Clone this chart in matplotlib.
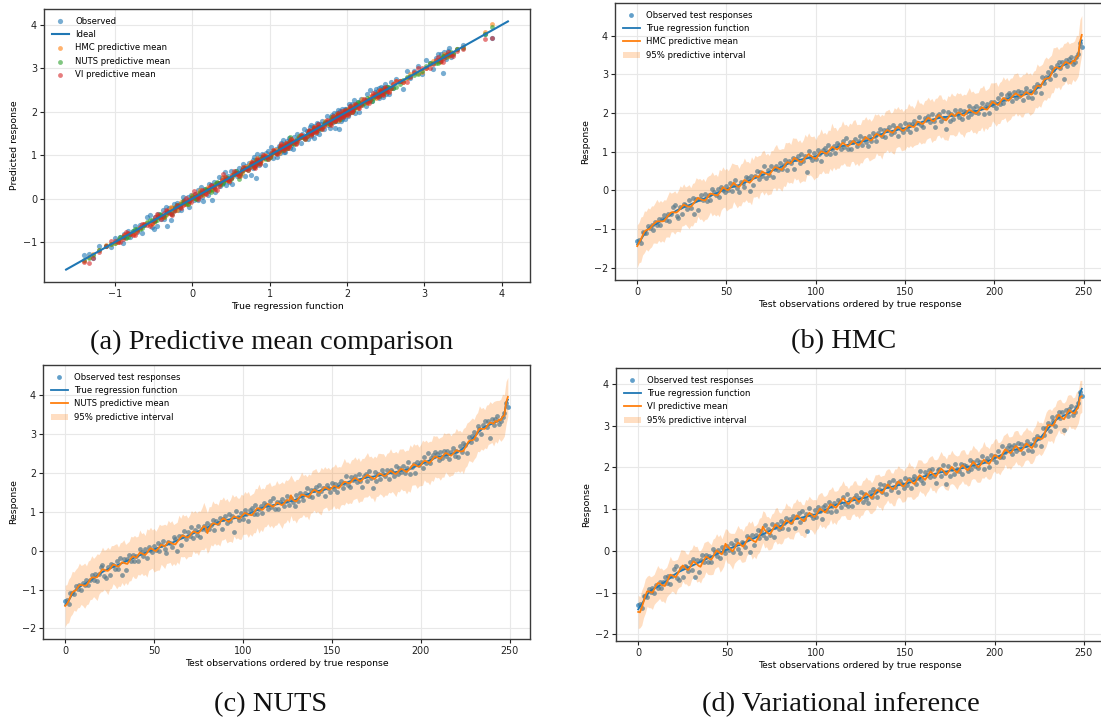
import numpy as np
import matplotlib
matplotlib.use("Agg")
import matplotlib.pyplot as plt

# ---------------- data (read/estimated from the picture) ----------------
true_fn = [
    -1.40, -1.33, -1.28, -1.20, -1.12, -1.05, -1.00, -0.96, -0.93, -0.90,
    -0.88, -0.86, -0.83, -0.80, -0.77, -0.74, -0.71, -0.68, -0.65, -0.62,
    -0.58, -0.55, -0.52, -0.50, -0.48, -0.46, -0.44, -0.42, -0.40, -0.38,
    -0.36, -0.34, -0.32, -0.30, -0.28, -0.26, -0.24, -0.22, -0.20, -0.18,
    -0.16, -0.14, -0.12, -0.10, -0.08, -0.06, -0.04, -0.02, 0.00, 0.02,
    0.03, 0.05, 0.07, 0.08, 0.10, 0.11, 0.13, 0.14, 0.16, 0.18,
    0.20, 0.22, 0.24, 0.26, 0.28, 0.30, 0.32, 0.34, 0.36, 0.38,
    0.40, 0.42, 0.44, 0.46, 0.48, 0.50, 0.52, 0.54, 0.56, 0.58,
    0.60, 0.62, 0.64, 0.66, 0.68, 0.70, 0.72, 0.74, 0.76, 0.77,
    0.78, 0.79, 0.80, 0.81, 0.82, 0.83, 0.84, 0.85, 0.86, 0.87,
    0.88, 0.90, 0.92, 0.94, 0.96, 0.98, 1.00, 1.02, 1.04, 1.06,
    1.08, 1.10, 1.12, 1.13, 1.14, 1.15, 1.16, 1.17, 1.18, 1.19,
    1.20, 1.21, 1.22, 1.23, 1.24, 1.25, 1.26, 1.27, 1.28, 1.30,
    1.32, 1.34, 1.36, 1.38, 1.40, 1.42, 1.44, 1.46, 1.48, 1.50,
    1.51, 1.52, 1.53, 1.54, 1.55, 1.56, 1.57, 1.58, 1.59, 1.60,
    1.61, 1.62, 1.63, 1.64, 1.66, 1.68, 1.70, 1.72, 1.74, 1.76,
    1.78, 1.79, 1.80, 1.81, 1.82, 1.83, 1.84, 1.85, 1.86, 1.87,
    1.88, 1.89, 1.90, 1.90, 1.91, 1.92, 1.93, 1.93, 1.94, 1.95,
    1.96, 1.97, 1.98, 1.99, 2.00, 2.01, 2.02, 2.03, 2.04, 2.05,
    2.06, 2.07, 2.08, 2.09, 2.10, 2.12, 2.14, 2.16, 2.18, 2.20,
    2.22, 2.24, 2.26, 2.28, 2.30, 2.32, 2.34, 2.36, 2.38, 2.40,
    2.41, 2.42, 2.43, 2.44, 2.45, 2.46, 2.47, 2.48, 2.49, 2.50,
    2.52, 2.54, 2.57, 2.60, 2.64, 2.68, 2.72, 2.77, 2.82, 2.87,
    2.92, 2.97, 3.02, 3.07, 3.11, 3.15, 3.18, 3.20, 3.22, 3.24,
    3.26, 3.28, 3.30, 3.32, 3.34, 3.37, 3.42, 3.50, 3.78, 3.88,
]

observed = [
    -1.30, -1.28, -1.36, -1.08, -1.09, -1.11, -0.91, -0.98, -0.89, -1.01,
    -0.82, -0.89, -0.75, -0.89, -0.75, -0.63, -0.76, -0.61, -0.79, -0.61,
    -0.43, -0.37, -0.65, -0.70, -0.42, -0.62, -0.35, -0.38, -0.47, -0.26,
    -0.46, -0.20, -0.62, -0.22, -0.50, -0.21, -0.11, -0.26, -0.10, -0.27,
    -0.13, -0.26, 0.04, -0.03, -0.13, 0.03, -0.18, 0.09, 0.02, -0.04,
    0.11, 0.02, 0.19, -0.02, 0.14, 0.26, 0.05, -0.05, 0.22, 0.19,
    0.09, 0.35, 0.31, -0.02, 0.38, 0.15, 0.37, 0.51, 0.30, 0.47,
    0.37, 0.62, 0.32, 0.52, 0.39, 0.64, 0.34, 0.56, 0.64, 0.53,
    0.71, 0.55, 0.67, 0.79, 0.52, 0.76, 0.70, 0.83, 0.55, 0.81,
    0.90, 0.70, 0.95, 0.77, 0.89, 0.48, 1.02, 0.86, 0.78, 0.97,
    0.82, 1.04, 0.95, 0.77, 1.05, 1.10, 0.95, 1.18, 0.93, 1.08,
    1.15, 0.96, 1.22, 1.17, 1.06, 1.28, 1.13, 1.36, 1.08, 1.25,
    1.08, 1.26, 1.33, 1.16, 1.27, 1.40, 1.17, 1.35, 1.24, 1.14,
    1.42, 1.28, 1.49, 1.40, 1.29, 1.49, 1.60, 1.41, 1.57, 1.37,
    1.55, 1.64, 1.45, 1.69, 1.52, 1.62, 1.40, 1.68, 1.60, 1.51,
    1.74, 1.58, 1.71, 1.50, 1.71, 1.79, 1.60, 1.75, 1.91, 1.69,
    1.63, 1.88, 1.82, 1.93, 1.76, 1.97, 1.80, 1.63, 1.93, 1.97,
    1.80, 2.05, 1.87, 1.60, 2.02, 1.80, 1.97, 1.84, 2.07, 1.97,
    1.91, 2.07, 1.84, 2.06, 2.03, 1.91, 2.17, 1.97, 2.13, 2.02,
    2.18, 1.99, 2.13, 2.27, 1.97, 2.16, 2.23, 2.00, 2.29, 2.21,
    2.28, 2.13, 2.40, 2.24, 2.50, 2.25, 2.37, 2.46, 2.53, 2.48,
    2.32, 2.54, 2.38, 2.57, 2.43, 2.55, 2.35, 2.54, 2.64, 2.42,
    2.56, 2.40, 2.68, 2.54, 2.76, 2.71, 2.52, 2.93, 2.78, 2.94,
    3.05, 2.88, 3.20, 3.12, 2.99, 3.23, 3.33, 3.17, 3.32, 2.89,
    3.37, 3.22, 3.39, 3.46, 3.26, 3.32, 3.44, 3.53, 3.80, 3.70,
]

# deviation of each predictive mean from the true regression function
hmc_dev = [
    -0.04, -0.02, 0.01, 0.03, 0.05, 0.02, -0.01, -0.03, 0.00, 0.02,
    0.04, 0.06, 0.03, 0.00, -0.03, -0.05, -0.02, 0.01, 0.03, 0.05,
    0.02, -0.02, -0.05, -0.03, 0.00, 0.04, 0.07, 0.03, -0.01, -0.04,
    -0.06, -0.03, 0.01, 0.05, 0.09, 0.04, 0.00, -0.03, -0.06, -0.02,
    0.02, 0.06, 0.03, -0.01, -0.04, -0.07, -0.03, 0.02, 0.08, 0.03,
    -0.01, -0.04, 0.00, 0.05, 0.10, 0.04, -0.02, -0.05, -0.02, 0.03,
    0.07, 0.03, -0.02, -0.06, -0.03, 0.01, 0.05, 0.02, -0.02, 0.04,
    0.09, 0.04, 0.00, -0.04, -0.08, -0.03, 0.02, 0.06, 0.03, -0.01,
    -0.05, -0.09, -0.04, 0.01, 0.05, 0.02, -0.02, 0.03, 0.08, 0.04,
    0.00, -0.04, -0.07, -0.03, 0.02, 0.06, 0.10, 0.05, 0.01, -0.03,
    -0.06, -0.02, 0.03, 0.07, 0.03, -0.01, -0.05, -0.02, 0.02, 0.06,
    0.03, -0.02, -0.06, -0.03, 0.02, 0.08, 0.04, 0.00, -0.04, -0.01,
    0.03, 0.07, 0.02, -0.03, -0.07, -0.04, 0.01, 0.05, 0.10, 0.04,
    -0.01, -0.05, -0.02, 0.03, 0.06, 0.02, -0.03, -0.07, -0.03, 0.02,
    0.05, 0.02, -0.02, -0.05, -0.01, 0.04, 0.08, 0.03, -0.02, -0.06,
    -0.03, 0.01, 0.05, 0.03, -0.01, -0.04, 0.00, 0.06, 0.02, -0.03,
    -0.06, -0.02, 0.03, 0.07, 0.03, -0.02, -0.05, -0.01, 0.04, 0.08,
    0.03, -0.02, -0.06, -0.09, -0.04, 0.01, 0.05, 0.02, -0.02, 0.03,
    0.06, 0.02, -0.03, -0.06, -0.02, 0.03, 0.07, 0.03, -0.01, -0.04,
    -0.07, -0.03, 0.02, 0.06, 0.02, -0.02, -0.05, -0.01, 0.04, 0.09,
    0.04, -0.01, -0.05, -0.02, 0.03, 0.07, 0.03, -0.02, -0.06, -0.03,
    0.01, 0.05, 0.08, 0.04, 0.00, -0.04, -0.02, 0.02, 0.05, 0.01,
    -0.03, -0.06, -0.02, 0.03, 0.06, 0.02, -0.03, 0.01, 0.05, 0.02,
    -0.02, -0.05, -0.01, 0.04, 0.07, 0.03, -0.02, -0.05, -0.01, 0.03,
    0.06, 0.02, -0.02, -0.04, 0.01, -0.03, 0.02, -0.02, 0.06, 0.14,
]

nuts_dev = [
    -0.02, -0.04, -0.01, 0.02, 0.04, 0.01, -0.02, 0.01, 0.04, 0.02,
    -0.01, -0.04, -0.06, -0.02, 0.02, 0.05, 0.02, -0.01, -0.03, 0.01,
    0.04, 0.07, 0.03, -0.01, -0.04, -0.02, 0.02, 0.06, 0.03, -0.02,
    -0.05, -0.02, 0.02, -0.01, -0.05, -0.08, -0.03, 0.02, 0.05, 0.02,
    -0.02, 0.02, 0.07, 0.03, -0.01, -0.05, -0.02, 0.03, 0.06, 0.02,
    -0.02, -0.06, -0.03, 0.01, 0.05, 0.02, -0.02, 0.02, 0.07, 0.03,
    -0.01, -0.05, -0.08, -0.04, 0.00, 0.04, 0.07, 0.03, -0.01, -0.04,
    -0.02, 0.02, 0.05, 0.02, -0.02, -0.05, -0.01, 0.03, 0.07, 0.02,
    -0.15, -0.05, 0.00, 0.04, 0.02, -0.02, -0.05, -0.02, 0.03, 0.06,
    0.02, -0.02, -0.06, -0.03, 0.01, 0.05, 0.02, -0.01, -0.04, 0.00,
    0.04, 0.07, 0.03, -0.01, -0.04, -0.07, -0.03, 0.01, 0.05, 0.02,
    -0.02, -0.05, -0.02, 0.03, 0.06, 0.03, -0.01, -0.04, -0.01, 0.04,
    0.02, -0.02, -0.05, -0.02, 0.03, 0.05, 0.02, 0.15, 0.03, -0.02,
    -0.05, -0.02, 0.02, 0.06, 0.03, -0.01, -0.05, -0.08, -0.03, 0.02,
    0.05, 0.02, -0.02, -0.05, -0.02, 0.02, 0.06, 0.03, -0.01, -0.03,
    0.00, 0.04, 0.02, -0.02, -0.05, -0.02, 0.02, 0.05, 0.02, -0.02,
    -0.05, -0.02, 0.03, 0.06, 0.02, -0.02, -0.06, -0.03, 0.01, 0.04,
    0.07, 0.03, -0.01, -0.04, -0.07, -0.03, 0.02, 0.05, 0.02, -0.02,
    -0.04, -0.01, 0.03, 0.06, 0.02, -0.02, -0.05, -0.02, 0.02, 0.05,
    0.02, -0.02, -0.06, -0.03, 0.01, 0.05, 0.08, 0.04, -0.01, -0.04,
    -0.02, 0.02, 0.05, 0.02, -0.03, -0.07, -0.03, 0.01, 0.04, 0.01,
    -0.03, -0.06, -0.02, 0.02, 0.06, 0.03, -0.01, -0.04, -0.01, 0.03,
    0.06, 0.02, -0.02, -0.05, -0.08, -0.03, 0.01, 0.04, 0.01, -0.03,
    -0.06, -0.02, 0.03, 0.06, 0.02, -0.02, -0.05, -0.02, 0.02, 0.05,
    0.02, -0.02, 0.03, -0.01, 0.03, -0.02, 0.02, -0.03, 0.02, 0.07,
]

vi_dev = [
    -0.06, -0.14, -0.08, -0.02, 0.04, 0.08, 0.03, -0.03, -0.07, -0.02,
    0.04, 0.09, 0.05, -0.01, -0.06, -0.10, -0.04, 0.02, 0.08, 0.03,
    -0.03, -0.08, -0.04, 0.02, 0.07, 0.11, 0.05, -0.01, -0.06, -0.02,
    0.04, 0.09, 0.04, -0.02, -0.08, -0.12, -0.05, 0.01, 0.06, 0.02,
    -0.03, -0.07, -0.02, 0.04, 0.09, 0.04, -0.02, -0.06, 0.02, 0.15,
    0.08, 0.02, -0.04, -0.09, -0.04, 0.02, 0.07, 0.03, -0.03, -0.08,
    -0.03, 0.03, 0.08, 0.03, -0.02, -0.07, -0.11, -0.05, 0.01, 0.06,
    0.18, 0.08, 0.02, -0.04, -0.08, -0.03, 0.03, 0.09, 0.04, -0.02,
    -0.07, -0.03, 0.02, 0.07, 0.03, -0.02, -0.07, -0.03, 0.03, 0.08,
    0.04, -0.01, -0.06, -0.10, -0.04, 0.02, 0.07, 0.03, -0.02, -0.06,
    -0.02, 0.04, 0.09, 0.04, -0.01, -0.06, -0.02, 0.03, 0.08, 0.03,
    -0.02, -0.07, -0.03, 0.02, 0.07, 0.11, 0.05, -0.01, -0.06, -0.03,
    0.02, 0.07, 0.03, -0.02, -0.07, -0.04, 0.01, 0.06, 0.10, 0.04,
    -0.02, -0.08, -0.04, 0.02, 0.06, 0.02, -0.03, -0.08, -0.03, 0.03,
    0.08, 0.03, -0.02, -0.07, -0.03, 0.03, 0.09, 0.04, -0.02, -0.06,
    -0.02, 0.04, 0.08, 0.03, -0.03, -0.08, -0.03, 0.03, 0.07, 0.02,
    -0.04, -0.09, -0.04, 0.02, 0.08, 0.03, -0.02, -0.07, -0.02, 0.04,
    0.09, 0.04, -0.02, -0.07, -0.03, 0.03, 0.08, 0.03, -0.03, -0.08,
    -0.03, 0.03, 0.07, 0.02, -0.04, -0.08, -0.03, 0.03, 0.09, 0.04,
    -0.02, -0.07, -0.03, 0.03, 0.08, 0.03, -0.03, -0.08, -0.03, 0.02,
    0.07, 0.03, -0.03, -0.07, -0.02, 0.04, 0.09, 0.04, -0.02, -0.06,
    -0.02, 0.04, 0.08, 0.03, -0.03, -0.07, -0.02, 0.04, 0.08, 0.03,
    -0.03, -0.08, -0.03, 0.03, 0.07, 0.02, -0.04, -0.08, -0.02, 0.04,
    0.09, 0.04, -0.02, -0.07, -0.02, 0.04, 0.08, 0.02, -0.04, -0.09,
    -0.03, 0.03, 0.07, 0.01, -0.04, -0.08, -0.03, -0.06, -0.10, -0.18,
]

# half-width of the 95% predictive interval around each predictive mean
hmc_hw = [
    0.55, 0.52, 0.58, 0.50, 0.54, 0.49, 0.56, 0.51, 0.53, 0.48,
    0.52, 0.57, 0.49, 0.54, 0.50, 0.55, 0.48, 0.53, 0.59, 0.50,
    0.51, 0.56, 0.49, 0.53, 0.60, 0.50, 0.54, 0.48, 0.52, 0.57,
    0.49, 0.55, 0.51, 0.58, 0.48, 0.53, 0.50, 0.56, 0.49, 0.54,
    0.52, 0.48, 0.57, 0.50, 0.54, 0.49, 0.61, 0.51, 0.53, 0.48,
    0.55, 0.50, 0.53, 0.58, 0.49, 0.52, 0.56, 0.48, 0.54, 0.50,
    0.57, 0.49, 0.53, 0.50, 0.62, 0.48, 0.54, 0.51, 0.56, 0.49,
    0.52, 0.58, 0.48, 0.54, 0.50, 0.56, 0.49, 0.53, 0.60, 0.50,
    0.51, 0.55, 0.48, 0.57, 0.50, 0.53, 0.49, 0.59, 0.51, 0.54,
    0.48, 0.56, 0.50, 0.53, 0.61, 0.49, 0.55, 0.50, 0.52, 0.57,
    0.49, 0.54, 0.51, 0.58, 0.48, 0.53, 0.50, 0.56, 0.49, 0.62,
    0.51, 0.55, 0.48, 0.53, 0.50, 0.57, 0.49, 0.54, 0.51, 0.56,
    0.48, 0.53, 0.59, 0.50, 0.54, 0.49, 0.56, 0.51, 0.53, 0.48,
    0.55, 0.50, 0.52, 0.57, 0.49, 0.54, 0.50, 0.58, 0.48, 0.53,
    0.51, 0.56, 0.49, 0.53, 0.60, 0.50, 0.52, 0.48, 0.55, 0.50,
    0.53, 0.49, 0.57, 0.51, 0.54, 0.48, 0.52, 0.59, 0.50, 0.53,
    0.49, 0.55, 0.51, 0.53, 0.48, 0.57, 0.50, 0.54, 0.49, 0.52,
    0.56, 0.48, 0.53, 0.50, 0.58, 0.49, 0.54, 0.51, 0.52, 0.55,
    0.48, 0.53, 0.50, 0.56, 0.49, 0.52, 0.57, 0.48, 0.54, 0.50,
    0.53, 0.49, 0.55, 0.51, 0.60, 0.48, 0.52, 0.50, 0.56, 0.49,
    0.52, 0.57, 0.48, 0.53, 0.50, 0.55, 0.49, 0.58, 0.51, 0.53,
    0.49, 0.54, 0.51, 0.56, 0.48, 0.52, 0.55, 0.50, 0.53, 0.49,
    0.55, 0.50, 0.53, 0.48, 0.57, 0.51, 0.54, 0.49, 0.52, 0.56,
    0.50, 0.53, 0.49, 0.58, 0.51, 0.54, 0.48, 0.55, 0.50, 0.53,
    0.49, 0.56, 0.51, 0.54, 0.48, 0.53, 0.57, 0.52, 0.58, 0.50,
]

nuts_hw = [
    0.53, 0.50, 0.56, 0.51, 0.55, 0.49, 0.54, 0.52, 0.57, 0.50,
    0.53, 0.58, 0.50, 0.55, 0.51, 0.56, 0.49, 0.54, 0.60, 0.51,
    0.52, 0.57, 0.50, 0.54, 0.61, 0.51, 0.55, 0.49, 0.53, 0.58,
    0.50, 0.56, 0.52, 0.59, 0.49, 0.54, 0.51, 0.57, 0.50, 0.55,
    0.53, 0.49, 0.58, 0.51, 0.55, 0.50, 0.62, 0.52, 0.54, 0.49,
    0.56, 0.51, 0.54, 0.59, 0.50, 0.53, 0.57, 0.49, 0.55, 0.51,
    0.58, 0.50, 0.54, 0.51, 0.63, 0.49, 0.55, 0.52, 0.57, 0.50,
    0.53, 0.59, 0.49, 0.55, 0.51, 0.57, 0.50, 0.54, 0.61, 0.51,
    0.52, 0.56, 0.49, 0.58, 0.51, 0.54, 0.50, 0.60, 0.52, 0.55,
    0.49, 0.57, 0.51, 0.54, 0.62, 0.50, 0.56, 0.51, 0.53, 0.58,
    0.50, 0.55, 0.52, 0.59, 0.49, 0.54, 0.51, 0.57, 0.50, 0.63,
    0.52, 0.56, 0.49, 0.54, 0.51, 0.58, 0.50, 0.55, 0.52, 0.57,
    0.49, 0.54, 0.60, 0.51, 0.55, 0.50, 0.57, 0.52, 0.54, 0.49,
    0.56, 0.51, 0.53, 0.58, 0.50, 0.55, 0.51, 0.59, 0.49, 0.54,
    0.52, 0.57, 0.50, 0.54, 0.61, 0.51, 0.53, 0.49, 0.56, 0.51,
    0.54, 0.50, 0.58, 0.52, 0.55, 0.49, 0.53, 0.60, 0.51, 0.54,
    0.50, 0.56, 0.52, 0.54, 0.49, 0.58, 0.51, 0.55, 0.50, 0.53,
    0.57, 0.49, 0.54, 0.51, 0.59, 0.50, 0.55, 0.52, 0.53, 0.56,
    0.49, 0.54, 0.51, 0.57, 0.50, 0.53, 0.58, 0.49, 0.55, 0.51,
    0.54, 0.50, 0.56, 0.52, 0.61, 0.49, 0.53, 0.51, 0.57, 0.50,
    0.53, 0.58, 0.49, 0.54, 0.51, 0.56, 0.50, 0.59, 0.52, 0.54,
    0.50, 0.55, 0.52, 0.57, 0.49, 0.53, 0.56, 0.51, 0.54, 0.50,
    0.56, 0.51, 0.54, 0.49, 0.58, 0.52, 0.55, 0.50, 0.53, 0.57,
    0.51, 0.54, 0.50, 0.59, 0.52, 0.55, 0.49, 0.56, 0.51, 0.54,
    0.50, 0.57, 0.52, 0.55, 0.49, 0.54, 0.58, 0.53, 0.55, 0.50,
]

vi_hw = [
    0.40, 0.37, 0.42, 0.38, 0.41, 0.36, 0.39, 0.37, 0.40, 0.36,
    0.39, 0.42, 0.36, 0.40, 0.37, 0.41, 0.36, 0.39, 0.44, 0.37,
    0.38, 0.41, 0.36, 0.39, 0.44, 0.37, 0.40, 0.36, 0.38, 0.42,
    0.36, 0.40, 0.38, 0.43, 0.36, 0.39, 0.37, 0.41, 0.36, 0.40,
    0.38, 0.36, 0.42, 0.37, 0.40, 0.36, 0.45, 0.37, 0.39, 0.36,
    0.40, 0.37, 0.39, 0.43, 0.36, 0.38, 0.41, 0.36, 0.40, 0.37,
    0.42, 0.36, 0.39, 0.37, 0.46, 0.36, 0.40, 0.37, 0.41, 0.36,
    0.38, 0.43, 0.36, 0.40, 0.37, 0.41, 0.36, 0.39, 0.44, 0.37,
    0.37, 0.40, 0.36, 0.42, 0.37, 0.39, 0.36, 0.43, 0.37, 0.40,
    0.36, 0.41, 0.37, 0.39, 0.45, 0.36, 0.40, 0.37, 0.38, 0.42,
    0.36, 0.40, 0.37, 0.42, 0.36, 0.39, 0.37, 0.41, 0.36, 0.45,
    0.37, 0.40, 0.36, 0.39, 0.37, 0.42, 0.36, 0.40, 0.37, 0.41,
    0.36, 0.39, 0.43, 0.37, 0.40, 0.36, 0.41, 0.37, 0.39, 0.36,
    0.40, 0.37, 0.38, 0.42, 0.36, 0.40, 0.37, 0.42, 0.36, 0.39,
    0.37, 0.41, 0.36, 0.39, 0.44, 0.37, 0.38, 0.36, 0.40, 0.37,
    0.39, 0.36, 0.42, 0.37, 0.40, 0.36, 0.38, 0.43, 0.37, 0.39,
    0.36, 0.40, 0.37, 0.39, 0.36, 0.42, 0.37, 0.40, 0.36, 0.38,
    0.41, 0.36, 0.39, 0.37, 0.43, 0.36, 0.40, 0.37, 0.38, 0.40,
    0.36, 0.39, 0.37, 0.41, 0.36, 0.38, 0.42, 0.36, 0.40, 0.37,
    0.39, 0.36, 0.40, 0.37, 0.44, 0.36, 0.38, 0.37, 0.41, 0.36,
    0.38, 0.42, 0.36, 0.39, 0.37, 0.40, 0.36, 0.43, 0.37, 0.39,
    0.36, 0.40, 0.37, 0.41, 0.36, 0.38, 0.40, 0.37, 0.39, 0.36,
    0.40, 0.37, 0.39, 0.36, 0.42, 0.37, 0.40, 0.36, 0.38, 0.41,
    0.37, 0.39, 0.36, 0.43, 0.37, 0.40, 0.36, 0.41, 0.37, 0.39,
    0.36, 0.41, 0.37, 0.40, 0.36, 0.39, 0.42, 0.38, 0.40, 0.38,
]

ideal_range = [-1.63, 4.08]

captions = ["(a) Predictive mean comparison", "(b) HMC", "(c) NUTS",
            "(d) Variational inference"]
method_names = ["HMC", "NUTS", "VI"]

# ---------------- figure ----------------
W, H = 1101, 721
fig = plt.figure(figsize=(W / 100, H / 100), dpi=100)


def px_axes(left, top, right, bottom):
    return fig.add_axes([left / W, 1 - bottom / H, (right - left) / W,
                         (bottom - top) / H])


FS_TICK = 6.9
FS_LAB = 6.75
FS_LEG = 6.1
SPINE = "#3a3a3a"
LW = 1.3


def style(ax):
    ax.grid(True, color="#e8e8e8", linewidth=0.8)
    ax.set_axisbelow(True)
    for s in ax.spines.values():
        s.set_color(SPINE)
        s.set_linewidth(1.0)
    ax.tick_params(labelsize=FS_TICK, length=3, width=0.8, colors="#222222",
                   pad=2)


t = np.array(true_fn)
obs = np.array(observed)
idx = np.arange(len(t))
means = {
    "HMC": t + np.array(hmc_dev),
    "NUTS": t + np.array(nuts_dev),
    "VI": t + np.array(vi_dev),
}
hws = {"HMC": np.array(hmc_hw), "NUTS": np.array(nuts_hw),
       "VI": np.array(vi_hw)}

leg_kw = dict(loc="upper left", fontsize=FS_LEG, frameon=False,
              handlelength=2.0, borderpad=0.4, labelspacing=0.52,
              handletextpad=0.8)

# (a)
axa = px_axes(44, 9, 530, 282)
style(axa)
axa.scatter(t, obs, s=14, color="C0", alpha=0.6, linewidths=0,
            label="Observed")
axa.plot(ideal_range, ideal_range, color="C0", lw=1.5, label="Ideal")
for m, col in zip(method_names, ["C1", "C2", "C3"]):
    axa.scatter(t, means[m], s=12, color=col, alpha=0.6, linewidths=0,
                label=f"{m} predictive mean")
axa.set_xlabel("True regression function", fontsize=FS_LAB, labelpad=2)
axa.set_ylabel("Predicted response", fontsize=FS_LAB, labelpad=3)
axa.legend(**leg_kw)

# (b)-(d)
boxes = {
    "HMC": (615, 3, 1104, 280),
    "NUTS": (43, 365, 530, 639),
    "VI": (616, 368, 1104, 641),
}
for m in method_names:
    ax = px_axes(*boxes[m])
    style(ax)
    mu = means[m]
    ax.scatter(idx, obs, s=12, color="C0", alpha=0.7, linewidths=0,
               label="Observed test responses")
    ax.plot(idx, t, color="C0", lw=LW, label="True regression function")
    ax.plot(idx, mu, color="C1", lw=LW, label=f"{m} predictive mean")
    ax.fill_between(idx, mu - hws[m], mu + hws[m], color="C1", alpha=0.25,
                    linewidth=0, label="95% predictive interval")
    ax.set_xlabel("Test observations ordered by true response",
                  fontsize=FS_LAB, labelpad=2)
    ax.set_ylabel("Response", fontsize=FS_LAB, labelpad=3)
    ax.legend(**leg_kw)

# captions
cap_font = dict(family=["Liberation Serif", "DejaVu Serif"], fontsize=20.5,
                ha="center", va="center", color="#111111")
fig.text(272 / W, 1 - 342 / H, captions[0], **cap_font)
fig.text(844 / W, 1 - 342 / H, captions[1], **cap_font)
fig.text(271 / W, 1 - 705 / H, captions[2], **cap_font)
fig.text(841 / W, 1 - 705 / H, captions[3], **cap_font)

fig.savefig("out.png", dpi=100)
